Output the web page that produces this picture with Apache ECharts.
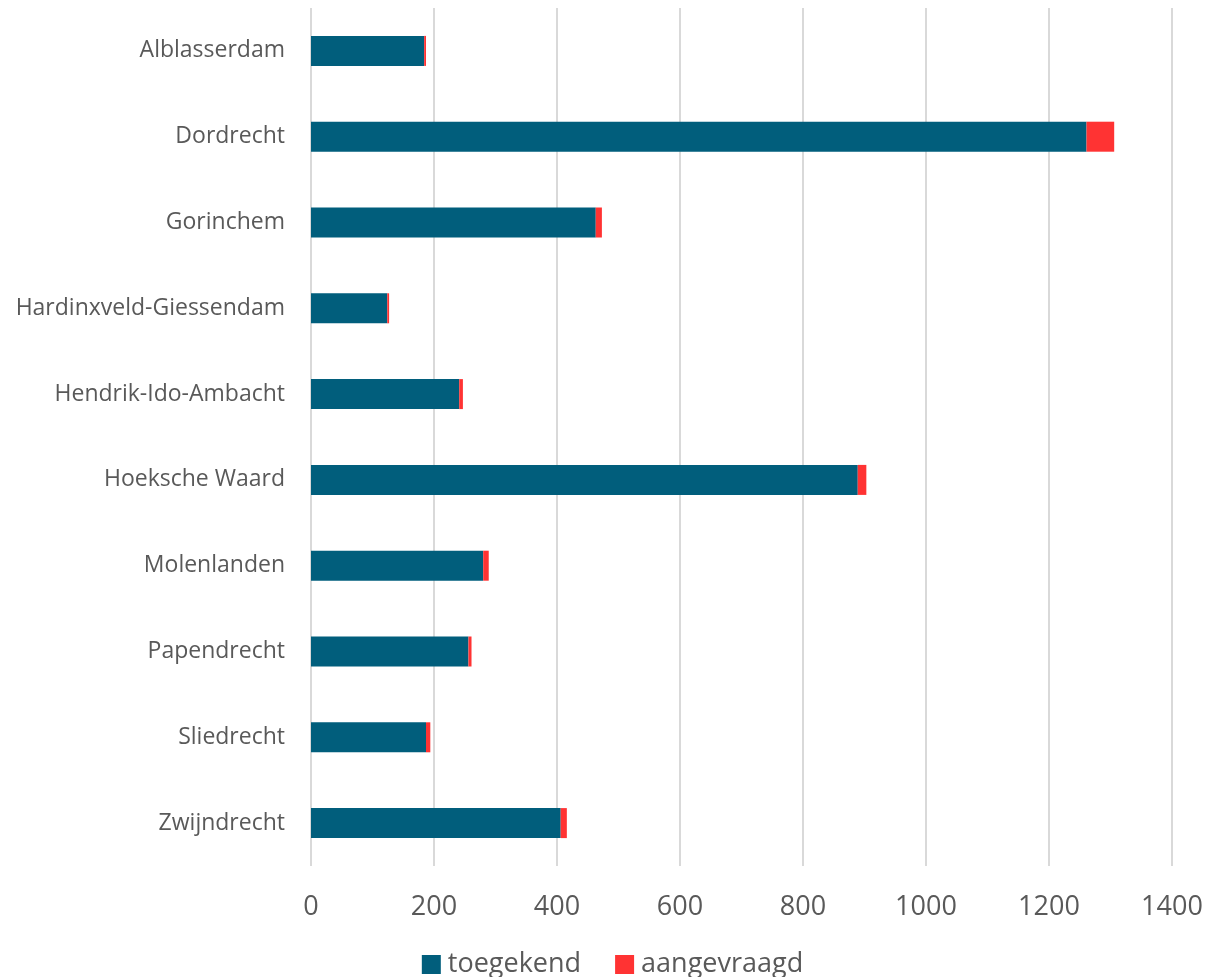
<!DOCTYPE html>
<html>
<head>
<meta charset="utf-8">
<script src="https://cdn.jsdelivr.net/npm/echarts@6/dist/echarts.min.js"></script>
<style>html,body{margin:0;padding:0;background:#fff}#c{width:1225px;height:977px}</style>
</head>
<body>
<div id="c"></div>
<script>
const categories = ["Alblasserdam","Dordrecht","Gorinchem","Hardinxveld-Giessendam","Hendrik-Ido-Ambacht","Hoeksche Waard","Molenlanden","Papendrecht","Sliedrecht","Zwijndrecht"];
const toegekend = [184, 1261, 463, 124, 241, 889, 280, 256, 187, 406];
const aangevraagd = [3, 45, 10, 3, 6, 14, 9, 5, 7, 10];
const seriesNames = ["toegekend","aangevraagd"];
const colors = ["#015e7c","#ff3333"];
const font = "'Open Sans', 'Segoe UI', sans-serif";

const chart = echarts.init(document.getElementById('c'), null, {renderer:'canvas'});
chart.setOption({
  animation: false,
  color: colors,
  grid: {left: 311, right: 53, top: 8, bottom: 111, containLabel: false},
  legend: {
    bottom: -6, left: 'center',
    itemWidth: 19, itemHeight: 19, itemGap: 34,
    icon: 'rect',
    textStyle: {fontFamily: font, fontSize: 27, color: '#595959', padding:[0,0,0,2]},
    data: seriesNames
  },
  xAxis: {
    type: 'value', min: 0, max: 1400, interval: 200,
    axisLine: {show: false}, axisTick: {show: false},
    splitLine: {lineStyle: {color: '#d9d9d9', width: 2}},
    axisLabel: {fontFamily: font, fontSize: 27, color: '#595959', margin: 28,
      formatter: v => String(v)}
  },
  yAxis: {
    type: 'category', data: categories, inverse: true,
    axisLine: {show: false}, axisTick: {show: false},
    axisLabel: {fontFamily: font, fontSize: 23, color: '#595959', margin: 26}
  },
  series: [
    {name: seriesNames[0], type: 'bar', stack: 's', data: toegekend, barWidth: 30},
    {name: seriesNames[1], type: 'bar', stack: 's', data: aangevraagd, barWidth: 30}
  ]
});
</script>
</body>
</html>
